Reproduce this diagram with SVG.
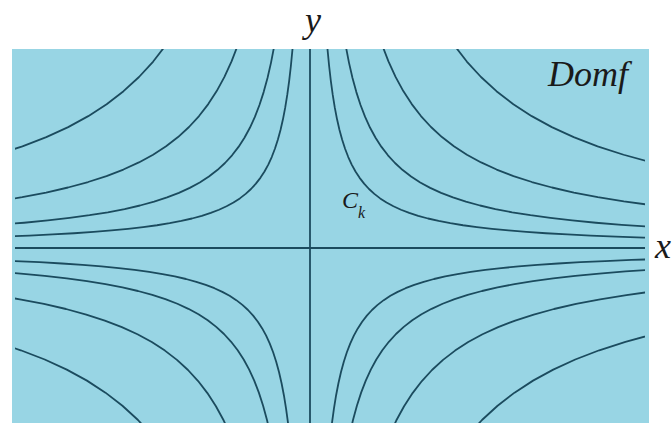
<svg xmlns="http://www.w3.org/2000/svg" xmlns:xlink="http://www.w3.org/1999/xlink" width="672" height="423" viewBox="0 0 672 423">
  <style>
    .curve { fill: none; stroke: #1b4b5e; stroke-width: 1.8; stroke-linejoin: round; vector-effect: non-scaling-stroke; }
    .axis { fill: none; stroke: #1b4b5e; stroke-width: 1.8; }
    .lbl { font-family: "Liberation Serif", "DejaVu Serif", serif; font-style: italic; fill: #1a1a1a; }
  </style>
  <defs>
    <clipPath id="plot"><rect x="15" y="49" width="630" height="374"/></clipPath>
    <path id="hyp" class="curve" d="M0.1487,-6.7272 L0.1621,-6.1688 0.1768,-5.6569 0.1928,-5.1874 0.2102,-4.7568 0.2293,-4.362 0.25,-4 0.2726,-3.668 0.2973,-3.3636 0.3242,-3.0844 0.3536,-2.8284 0.3856,-2.5937 0.4204,-2.3784 0.4585,-2.181 0.5,-2 0.5453,-1.834 0.5946,-1.6818 0.6484,-1.5422 0.7071,-1.4142 0.7711,-1.2968 0.8409,-1.1892 0.917,-1.0905 1,-1 1.0905,-0.917 1.1892,-0.8409 1.2968,-0.7711 1.4142,-0.7071 1.5422,-0.6484 1.6818,-0.5946 1.834,-0.5453 2,-0.5 2.181,-0.4585 2.3784,-0.4204 2.5937,-0.3856 2.8284,-0.3536 3.0844,-0.3242 3.3636,-0.2973 3.668,-0.2726 4,-0.25 4.362,-0.2293 4.7568,-0.2102 5.1874,-0.1928 5.6569,-0.1768 6.1688,-0.1621 6.7272,-0.1487"/>
  </defs>
  <rect width="672" height="423" fill="#ffffff"/>
  <rect id="domain" x="12" y="49" width="637" height="374" fill="#98d5e4"/>
  <g id="axes">
    <line class="axis" x1="310" y1="49" x2="310" y2="423"/>
    <line class="axis" x1="15" y1="248" x2="645" y2="248"/>
  </g>
  <g id="level-curves" clip-path="url(#plot)">
    <g transform="translate(310,248)">
      <use xlink:href="#hyp" transform="scale(59,59)"/>
      <use xlink:href="#hyp" transform="scale(85,85)"/>
      <use xlink:href="#hyp" transform="scale(121,121)"/>
      <use xlink:href="#hyp" transform="scale(171,171)"/>
      <use xlink:href="#hyp" transform="scale(-59,59)"/>
      <use xlink:href="#hyp" transform="scale(-85,85)"/>
      <use xlink:href="#hyp" transform="scale(-121,121)"/>
      <use xlink:href="#hyp" transform="scale(-171,171)"/>
      <use xlink:href="#hyp" transform="scale(62,-62)"/>
      <use xlink:href="#hyp" transform="scale(86,-86)"/>
      <use xlink:href="#hyp" transform="scale(122,-122)"/>
      <use xlink:href="#hyp" transform="scale(172,-172)"/>
      <use xlink:href="#hyp" transform="scale(-62,-62)"/>
      <use xlink:href="#hyp" transform="scale(-86,-86)"/>
      <use xlink:href="#hyp" transform="scale(-122,-122)"/>
      <use xlink:href="#hyp" transform="scale(-172,-172)"/>
    </g>
  </g>
  <g id="labels">
    <text class="lbl" x="305" y="32" font-size="36">y</text>
    <text class="lbl" x="655" y="258" font-size="36">x</text>
    <text class="lbl" x="548" y="86" font-size="36">Domf</text>
    <text class="lbl" x="342" y="208" font-size="24">C<tspan font-size="16" dy="10">k</tspan></text>
  </g>
</svg>
